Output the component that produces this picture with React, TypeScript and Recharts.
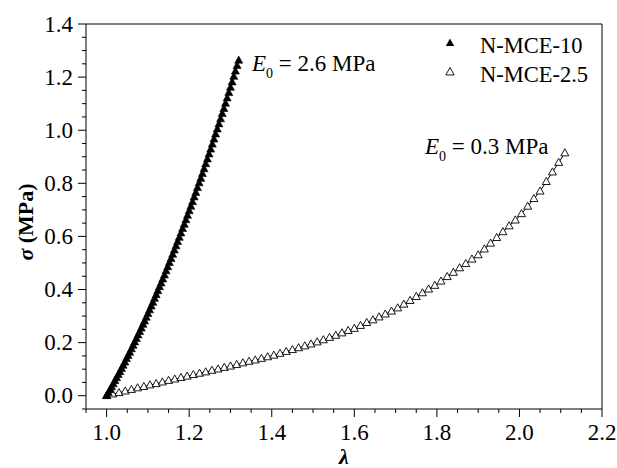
import React from 'react';
import { ComposedChart, Scatter, Line, XAxis, YAxis } from 'recharts';

// N-MCE-10 (filled triangles)
const lambda10 = [1.000,1.004,1.008,1.012,1.016,1.020,1.024,1.028,1.032,1.036,1.040,1.044,1.048,1.052,1.056,1.060,1.064,1.068,1.072,1.076,1.080,1.084,1.088,1.092,1.096,1.100,1.104,1.108,1.112,1.116,1.120,1.124,1.128,1.132,1.136,1.140,1.144,1.148,1.152,1.156,1.160,1.164,1.168,1.172,1.176,1.180,1.184,1.188,1.192,1.196,1.200,1.204,1.208,1.212,1.216,1.220,1.224,1.228,1.232,1.236,1.240,1.244,1.248,1.252,1.256,1.260,1.264,1.268,1.272,1.276,1.280,1.284,1.288,1.292,1.296,1.300,1.304,1.308,1.312,1.316,1.320];
const sigma10 = [0,0.011,0.022,0.033,0.044,0.056,0.067,0.079,0.090,0.102,0.114,0.126,0.139,0.151,0.163,0.176,0.189,0.202,0.215,0.228,0.241,0.254,0.268,0.281,0.295,0.309,0.323,0.337,0.351,0.366,0.380,0.395,0.410,0.424,0.439,0.454,0.470,0.485,0.501,0.516,0.532,0.548,0.564,0.580,0.596,0.612,0.629,0.645,0.662,0.679,0.696,0.713,0.730,0.748,0.765,0.783,0.801,0.818,0.836,0.854,0.873,0.891,0.910,0.928,0.947,0.966,0.985,1.004,1.023,1.042,1.062,1.081,1.101,1.121,1.141,1.161,1.181,1.202,1.222,1.243,1.263];

// N-MCE-2.5 (open triangles)
const lambda25 = [1.000,1.015,1.030,1.045,1.060,1.075,1.090,1.105,1.120,1.135,1.150,1.165,1.180,1.195,1.210,1.225,1.240,1.255,1.270,1.285,1.300,1.315,1.330,1.345,1.360,1.375,1.390,1.405,1.420,1.435,1.450,1.465,1.480,1.495,1.510,1.525,1.540,1.555,1.570,1.585,1.600,1.615,1.630,1.645,1.660,1.675,1.690,1.705,1.720,1.735,1.750,1.765,1.780,1.795,1.810,1.825,1.840,1.855,1.870,1.885,1.900,1.915,1.930,1.945,1.960,1.975,1.990,2.005,2.020,2.035,2.050,2.065,2.080,2.095,2.110];
const sigma25 = [0,0.006,0.011,0.017,0.023,0.029,0.034,0.040,0.045,0.051,0.057,0.062,0.068,0.073,0.079,0.084,0.089,0.095,0.100,0.106,0.111,0.117,0.123,0.129,0.134,0.140,0.146,0.152,0.159,0.166,0.173,0.180,0.187,0.194,0.202,0.210,0.219,0.227,0.236,0.245,0.253,0.264,0.275,0.285,0.296,0.307,0.318,0.330,0.344,0.358,0.373,0.387,0.401,0.415,0.431,0.448,0.464,0.481,0.497,0.514,0.530,0.552,0.574,0.595,0.617,0.639,0.661,0.685,0.713,0.742,0.770,0.806,0.842,0.878,0.914];

const seriesNames = ['N-MCE-10', 'N-MCE-2.5'];
const annotations = ['2.6 MPa', '0.3 MPa'];

const xTicks = [0.95,1.0,1.05,1.1,1.15,1.2,1.25,1.3,1.35,1.4,1.45,1.5,1.55,1.6,1.65,1.7,1.75,1.8,1.85,1.9,1.95,2.0,2.05,2.1,2.15,2.2];
const yTicks = [-0.05,0,0.05,0.1,0.15,0.2,0.25,0.3,0.35,0.4,0.45,0.5,0.55,0.6,0.65,0.7,0.75,0.8,0.85,0.9,0.95,1.0,1.05,1.1,1.15,1.2,1.25,1.3,1.35,1.4];
const xMajor = [1.0,1.2,1.4,1.6,1.8,2.0,2.2];
const yMajor = [0.0,0.2,0.4,0.6,0.8,1.0,1.2,1.4];

const data10 = lambda10.map((x, i) => ({ x, y: sigma10[i] }));
const data25 = lambda25.map((x, i) => ({ x, y: sigma25[i] }));

const FONT = '"Liberation Serif", "Times New Roman", serif';
const textStyle = { fontFamily: FONT };

const isIn = (v: number, arr: number[]) => arr.some((m) => Math.abs(m - v) < 1e-6);

const XTick = (props: any) => {
  const { x, y, payload } = props;
  const v = payload.value;
  const major = isIn(v, xMajor);
  return (
    <g>
      <line x1={x} x2={x} y1={y} y2={y + (major ? 8 : 4)} stroke="#000" strokeWidth={1} />
      {major && (
        <text x={x} y={y + 31} textAnchor="middle" style={textStyle} fontSize={23} fill="#000" stroke="none">
          {v.toFixed(1)}
        </text>
      )}
    </g>
  );
};

const YTick = (props: any) => {
  const { x, y, payload } = props;
  const v = payload.value;
  const major = isIn(v, yMajor);
  return (
    <g>
      <line x1={x} x2={x - (major ? 8 : 4)} y1={y} y2={y} stroke="#000" strokeWidth={1} />
      {major && (
        <text x={x - 13} y={y + 7.5} textAnchor="end" style={textStyle} fontSize={23} fill="#000" stroke="none">
          {v.toFixed(1)}
        </text>
      )}
    </g>
  );
};

const triPoints = (cx: number, cy: number, s = 1) =>
  `${cx},${cy - 4.3 * s} ${cx - 4 * s},${cy + 2.8 * s} ${cx + 4 * s},${cy + 2.8 * s}`;

const FilledTri = (props: any) => {
  const { cx, cy } = props;
  if (cx == null || cy == null) return null;
  return <polygon points={triPoints(cx, cy)} fill="#000" stroke="#000" strokeWidth={0.6} />;
};

const OpenTri = (props: any) => {
  const { cx, cy } = props;
  if (cx == null || cy == null) return null;
  return <polygon points={triPoints(cx, cy)} fill="#fff" stroke="#000" strokeWidth={0.9} />;
};

const Annot = ({ x, y, value }: { x: number; y: number; value: string }) => (
  <text x={x} y={y} style={textStyle} fontSize={23} fill="#000">
    <tspan fontStyle="italic">E</tspan>
    <tspan fontSize={14} dy={7}>0</tspan>
    <tspan dy={-7}>{` = ${value}`}</tspan>
  </text>
);

export default function App() {
  return (
    <div style={{ position: 'absolute', left: 0, top: 0, width: 617, height: 468, background: '#fff' }}>
      <ComposedChart width={617} height={468} margin={{ top: 0, right: 0, bottom: 0, left: 0 }}>
        <XAxis
          xAxisId="main"
          dataKey="x"
          type="number"
          domain={[0.95, 2.2]}
          ticks={xTicks}
          interval={0}
          allowDataOverflow
          height={59}
          tickSize={0}
          tickMargin={0}
          tickLine={false}
          tick={<XTick />}
          axisLine={{ stroke: '#000', strokeWidth: 1 }}
        />
        <XAxis
          xAxisId="top"
          orientation="top"
          type="number"
          domain={[0.95, 2.2]}
          allowDataOverflow
          height={24}
          tick={false}
          tickLine={false}
          axisLine={{ stroke: '#000', strokeWidth: 1 }}
        />
        <YAxis
          yAxisId="main"
          dataKey="y"
          type="number"
          domain={[-0.05, 1.4]}
          ticks={yTicks}
          interval={0}
          allowDataOverflow
          width={86}
          tickSize={0}
          tickMargin={0}
          tickLine={false}
          tick={<YTick />}
          axisLine={{ stroke: '#000', strokeWidth: 1 }}
        />
        <YAxis
          yAxisId="right"
          orientation="right"
          type="number"
          domain={[-0.05, 1.4]}
          allowDataOverflow
          width={15}
          tick={false}
          tickLine={false}
          axisLine={{ stroke: '#000', strokeWidth: 1 }}
        />
        <Scatter
          name={seriesNames[1]}
          data={data25}
          xAxisId="main"
          yAxisId="main"
          shape={<OpenTri />}
          isAnimationActive={false}
        />
        <Line
          data={data25}
          dataKey="y"
          xAxisId="main"
          yAxisId="main"
          type="linear"
          stroke="#000"
          strokeWidth={1}
          dot={false}
          activeDot={false}
          legendType="none"
          isAnimationActive={false}
        />
        <Scatter
          name={seriesNames[0]}
          data={data10}
          xAxisId="main"
          yAxisId="main"
          shape={<FilledTri />}
          isAnimationActive={false}
        />
        <Line
          data={data10}
          dataKey="y"
          xAxisId="main"
          yAxisId="main"
          type="linear"
          stroke="#000"
          strokeWidth={1}
          dot={false}
          activeDot={false}
          legendType="none"
          isAnimationActive={false}
        />
      </ComposedChart>
      <svg
        width={617}
        height={468}
        style={{ position: 'absolute', left: 0, top: 0, pointerEvents: 'none' }}
      >
        <polygon points={triPoints(450, 43, 1.05)} fill="#000" />
        <text x={480} y={52.7} style={textStyle} fontSize={22.5} fill="#000">{seriesNames[0]}</text>
        <polygon points={triPoints(450, 72, 1.05)} fill="#fff" stroke="#000" strokeWidth={0.9} />
        <text x={480} y={81.7} style={textStyle} fontSize={22.5} fill="#000">{seriesNames[1]}</text>
        <Annot x={252} y={71} value={annotations[0]} />
        <Annot x={425} y={154} value={annotations[1]} />
        <text
          x={33}
          y={222}
          transform="rotate(-90 33 222)"
          textAnchor="middle"
          style={textStyle}
          fontSize={22}
          fontWeight="bold"
          fill="#000"
        >
          <tspan fontStyle="italic">σ</tspan>
          <tspan> (MPa)</tspan>
        </text>
        <text x={344} y={464} textAnchor="middle" style={textStyle} fontSize={22} fontWeight="bold" fontStyle="italic" fill="#000">
          λ
        </text>
      </svg>
    </div>
  );
}
